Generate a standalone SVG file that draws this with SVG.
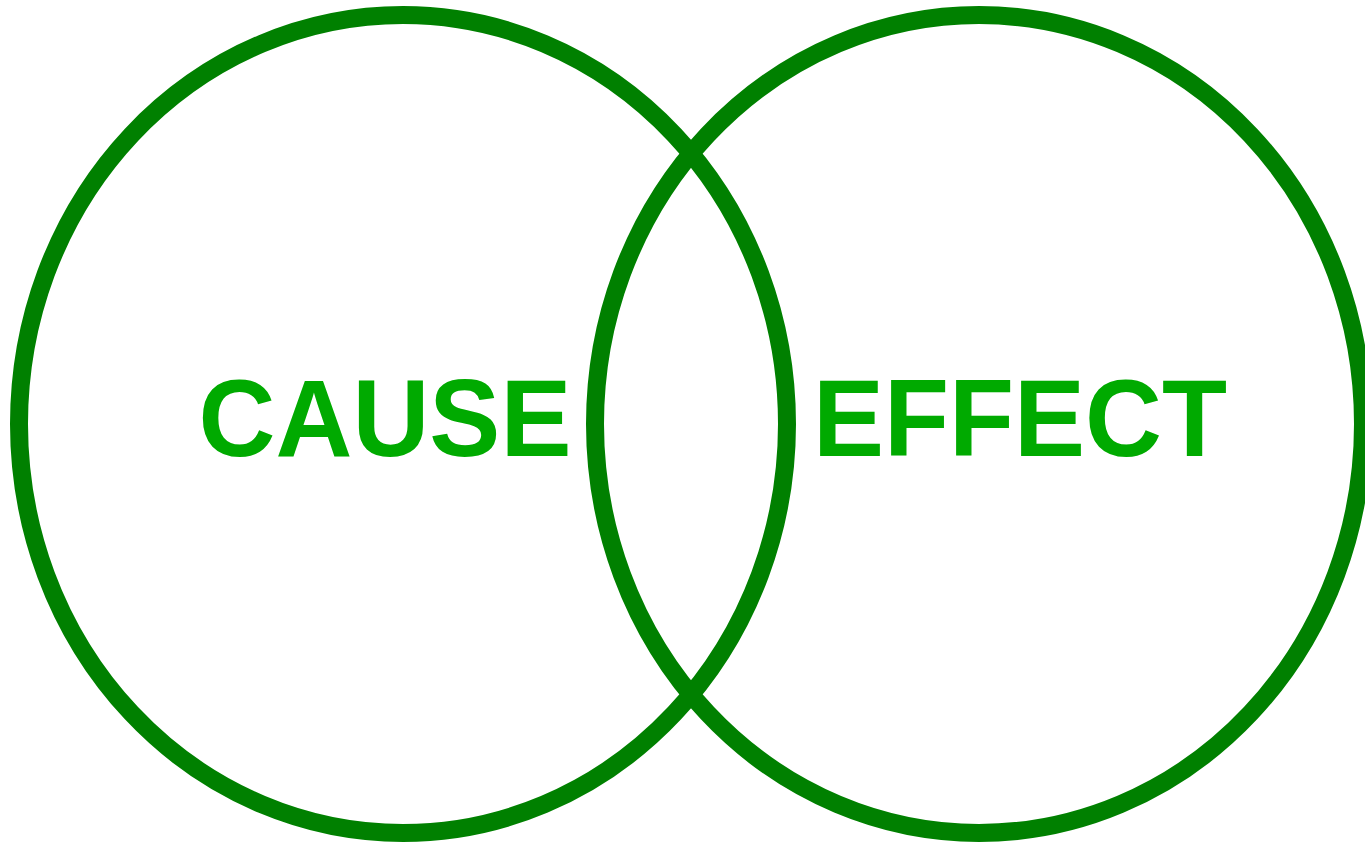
<svg xmlns="http://www.w3.org/2000/svg" width="1365" height="842" viewBox="0 0 1365 842">
<style>
.ring{fill:none;stroke:#008000;stroke-width:18}
.lbl{font-family:"Liberation Sans",Arial,sans-serif;font-weight:bold;font-size:106px;fill:#00AA00;text-anchor:middle}
</style>
<rect width="1365" height="842" fill="#ffffff"/>
<g id="cause">
<ellipse class="ring" cx="403" cy="424" rx="384" ry="409"/>
<text class="lbl" transform="translate(385,456) scale(1.005,1.04)">CAUSE</text>
</g>
<g id="effect">
<ellipse class="ring" cx="979" cy="424" rx="384" ry="409"/>
<text class="lbl" transform="translate(1020,456) scale(1.005,1.04)">EFFECT</text>
</g>
<g id="connectors"></g>
</svg>
